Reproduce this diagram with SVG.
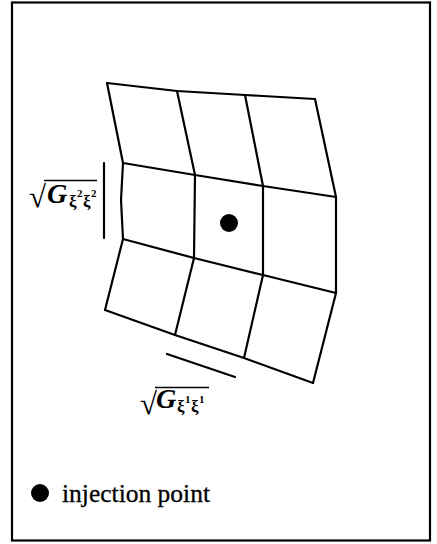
<svg xmlns="http://www.w3.org/2000/svg" width="437" height="544" viewBox="0 0 437 544">
<style>
.ln{fill:none;stroke:#000;stroke-width:2.2;stroke-linejoin:round;stroke-linecap:round}
.G{font-family:"Liberation Serif",serif;font-style:italic;font-weight:bold;font-size:28px}
.xi{font-family:"Liberation Serif",serif;font-weight:bold;font-size:17px}
.sup{font-family:"Liberation Serif",serif;font-weight:bold;font-size:11px}
.rad{font-family:"Liberation Serif",serif;font-size:31px}
.lbl{font-family:"Liberation Serif",serif;font-size:25.5px;stroke:#000;stroke-width:0.3}
</style>
<rect x="0" y="0" width="437" height="544" fill="#fff"/>
<rect id="frame" x="12" y="2.5" width="418" height="538" fill="none" stroke="#000" stroke-width="2.2"/>
<g id="grid" class="ln">
<polyline points="107,83 177,91 245,95 315,99"/>
<polyline points="123,163 195,175 263,186 336,197"/>
<polyline points="123,239 194,258 263,275 336,293"/>
<polyline points="105,310 175,335 244,358 313,383"/>
<polyline points="107,83 123,163 121,200 123,239 105,310"/>
<polyline points="177,91 195,175 194,258 175,335"/>
<polyline points="245,95 263,186 263,275 244,358"/>
<polyline points="315,99 336,197 336,293 313,383"/>
</g>
<g id="injection-dot"><circle cx="229" cy="223" r="9" fill="#000"/></g>
<g id="connectors" class="ln">
<line x1="104" y1="163" x2="104" y2="238"/>
<line x1="167" y1="354" x2="235" y2="377"/>
</g>
<g id="label-g22">
<text class="rad" x="29" y="207">√</text>
<line x1="44" y1="180.5" x2="97" y2="180.5" stroke="#000" stroke-width="1.5"/>
<text class="G" x="47" y="203">G</text>
<text class="xi" x="69" y="207">ξ</text><text class="sup" x="77" y="197">2</text>
<text class="xi" x="83" y="207">ξ</text><text class="sup" x="91" y="197">2</text>
</g>
<g id="label-g11">
<text class="rad" x="140" y="414">√</text>
<line x1="155" y1="387.5" x2="209" y2="387.5" stroke="#000" stroke-width="1.5"/>
<text class="G" x="156" y="408">G</text>
<text class="xi" x="177" y="412">ξ</text><text class="sup" x="185" y="403">1</text>
<text class="xi" x="191" y="412">ξ</text><text class="sup" x="199" y="403">1</text>
</g>
<g id="legend">
<circle cx="40" cy="493" r="9" fill="#000"/>
<text class="lbl" x="62" y="501.5">injection point</text>
</g>
</svg>
